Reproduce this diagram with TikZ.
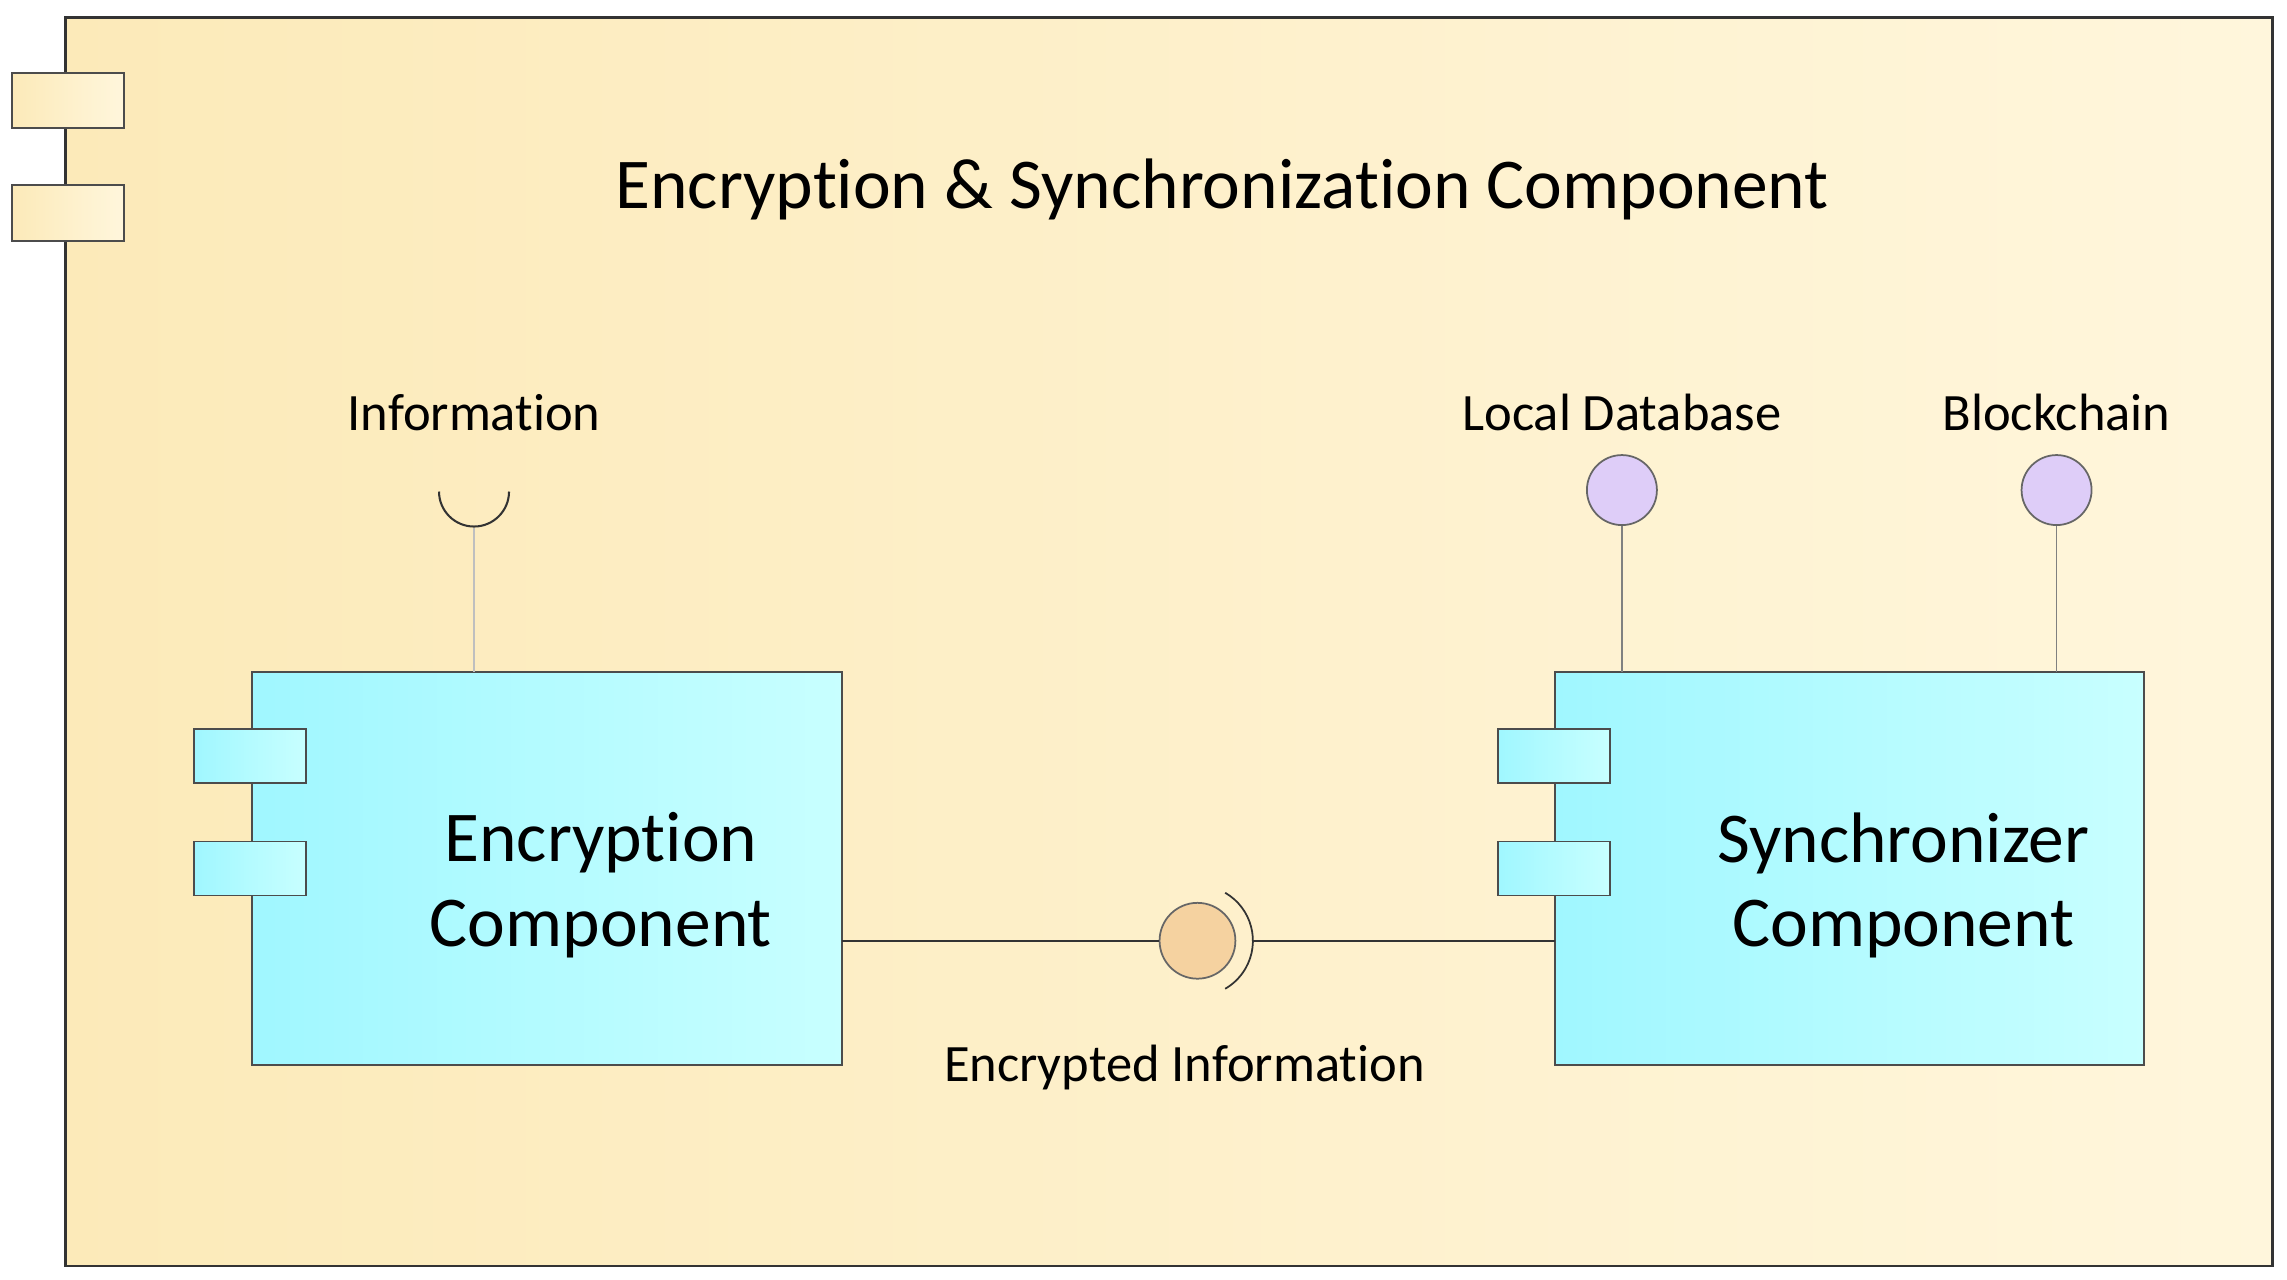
\documentclass[tikz,border=0pt]{standalone}
\usepackage{fontspec}
\setmainfont{Carlito}[RawFeature=-liga]
\definecolor{outL}{RGB}{252,234,185}
\definecolor{outR}{RGB}{255,246,220}
\definecolor{cyL}{RGB}{160,247,255}
\definecolor{cyR}{RGB}{200,255,255}
\definecolor{purp}{RGB}{222,205,248}
\definecolor{tan}{RGB}{245,210,160}
\begin{document}
\begin{tikzpicture}[x=0.5pt,y=-0.5pt,
  tab/.style={draw=black!70,line width=0.6pt},
  lbl/.style={font=\fontsize{18}{21}\selectfont},
  big/.style={font=\fontsize{24.5}{29}\selectfont,align=center},
  lolly/.style={draw=black!60,line width=0.6pt,fill=purp},
  stem/.style={draw=black!50,line width=0.6pt}]
\useasboundingbox (0,0) rectangle (1568,877);
% outer component
\shade[left color=outL,right color=outR,draw=black!80,line width=0.8pt] (45,12) rectangle (1558,868);
\shade[tab,left color=outL,right color=outR] (8,50) rectangle (85,88);
\shade[tab,left color=outL,right color=outR] (8,127) rectangle (85,165);
\node[font=\fontsize{24.5}{29}\selectfont] (title) at (838,130) {Encryption \& Synchronization Component};
% encryption component
\shade[draw=black!70,line width=0.7pt,left color=cyL,right color=cyR] (173,461) rectangle (577,730);
\coordinate (encR) at (577,645);
\coordinate (encT) at (325,461);
\shade[tab,left color=cyL,right color=cyR] (133,500) rectangle (210,537);
\shade[tab,left color=cyL,right color=cyR] (133,577) rectangle (210,614);
\node[big] (enc) at (412,607) {Encryption\\Component};
% synchronizer component
\shade[draw=black!70,line width=0.7pt,left color=cyL,right color=cyR] (1066,461) rectangle (1470,730);
\coordinate (synL) at (1066,645);
\coordinate (synT1) at (1112,461);
\coordinate (synT2) at (1410,461);
\shade[tab,left color=cyL,right color=cyR] (1027,500) rectangle (1104,537);
\shade[tab,left color=cyL,right color=cyR] (1027,577) rectangle (1104,614);
\node[big] (syn) at (1305,607) {Synchronizer\\Component};
% Information required interface
\node[lbl] (info) at (325,283) {Information};
\coordinate (sockI) at (325,362);
\draw[stem,draw=black!25] (sockI) -- (encT);
\draw[black!80,line width=0.7pt] (301,337) arc[start angle=180,end angle=0,radius=24];
% provided interfaces
\node[lbl] (ldb) at (1112,283) {Local Database};
\node[lbl] (bc) at (1410,283) {Blockchain};
\node[circle,lolly,minimum size=24pt,inner sep=0] (ldbc) at (1112,336) {};
\node[circle,lolly,minimum size=24pt,inner sep=0] (bcc) at (1410,336) {};
\draw[stem] (ldbc) -- (synT1);
\draw[stem] (bcc) -- (synT2);
% encrypted information
\node[circle,draw=black!60,line width=0.6pt,fill=tan,minimum size=26pt,inner sep=0] (ball) at (821,645) {};
\draw[black!80,line width=0.6pt] ([shift={(-60:38)}]821,645) arc[start angle=-60,end angle=60,radius=38];
\coordinate (sockE) at (859,645);
\draw[black!80,line width=0.7pt] (encR) -- (ball);
\draw[black!80,line width=0.7pt] (sockE) -- (synL);
\node[lbl] (einfo) at (812,732) {Encrypted Information};
\end{tikzpicture}
\end{document}
